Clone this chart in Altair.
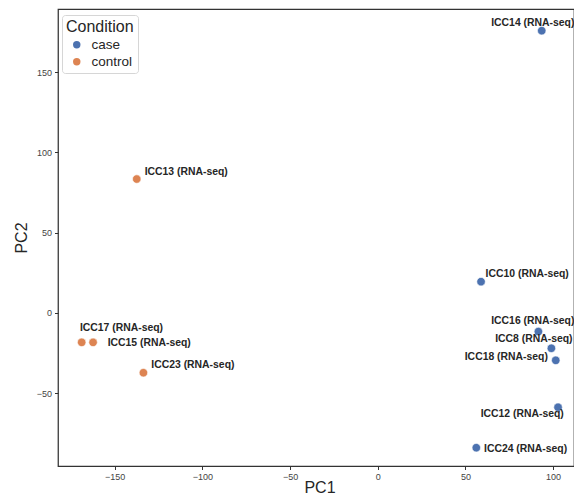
import altair as alt
import pandas as pd

samples = ["ICC14 (RNA-seq)", "ICC13 (RNA-seq)", "ICC17 (RNA-seq)", "ICC15 (RNA-seq)",
           "ICC23 (RNA-seq)", "ICC10 (RNA-seq)", "ICC16 (RNA-seq)", "ICC8 (RNA-seq)",
           "ICC18 (RNA-seq)", "ICC12 (RNA-seq)", "ICC24 (RNA-seq)"]
condition = ["case", "control", "control", "control", "control", "case", "case", "case",
             "case", "case", "case"]
pc1 = [93.5, -137.4, -168.8, -162.3, -133.6, 58.9, 91.6, 99.0, 101.5, 102.8, 56.2]
pc2 = [175.8, 83.4, -18.3, -18.3, -37.2, 19.5, -11.6, -22.0, -29.5, -58.7, -83.9]
# annotation anchor (centre of each text label), in data units
label_pc1 = [88.4, -109.2, -146.1, -130.3, -105.4, 85.2, 88.4, 89.0, 73.3, 82.4, 84.3]
label_pc2 = [180.4, 87.6, -9.5, -18.9, -32.6, 24.3, -4.8, -16.2, -27.6, -62.9, -84.9]

cond_domain = ["case", "control"]
cond_colors = ["#4C72B0", "#DD8452"]
x_ticks = [-150, -100, -50, 0, 50, 100]
y_ticks = [-50, 0, 50, 100, 150]
x_domain = [-182.3, 111.9]
y_domain = [-95.3, 189.3]

df = pd.DataFrame({
    "sample": samples, "Condition": condition, "PC1": pc1, "PC2": pc2,
    "lx": label_pc1, "ly": label_pc2,
})

FONT = "Liberation Sans"

xscale = alt.Scale(domain=x_domain, nice=False, zero=False)
yscale = alt.Scale(domain=y_domain, nice=False, zero=False)

points = alt.Chart(df).mark_circle(size=72, opacity=1, stroke="white", strokeWidth=0.6).encode(
    x=alt.X("PC1:Q", scale=xscale,
            axis=alt.Axis(values=x_ticks, title="PC1", titleX=261.5, titleY=26,
                          titleBaseline="alphabetic", titleAnchor="middle")),
    y=alt.Y("PC2:Q", scale=yscale,
            axis=alt.Axis(values=y_ticks, title="PC2", titleX=-37, titleBaseline="middle")),
    color=alt.Color("Condition:N",
                    scale=alt.Scale(domain=cond_domain, range=cond_colors),
                    legend=alt.Legend(orient="none", legendX=4, legendY=6,
                                      title="Condition", titleFontSize=16,
                                      titleFont=FONT, titleFontWeight="normal",
                                      titleColor="#262626", titlePadding=3,
                                      labelFontSize=13.5, labelFont=FONT, labelColor="#262626",
                                      symbolType="circle", symbolSize=55,
                                      symbolStrokeWidth=0, symbolOffset=4, labelOffset=8,
                                      rowPadding=2, padding=4,
                                      strokeColor="#d6d6d6", cornerRadius=3,
                                      fillColor="white")),
)

labels = alt.Chart(df).mark_text(font=FONT, fontSize=10.4, fontWeight="bold",
                                 color="#262626", align="center", baseline="middle").encode(
    x=alt.X("lx:Q", scale=xscale),
    y=alt.Y("ly:Q", scale=yscale),
    text="sample:N",
)

chart = alt.layer(points, labels).properties(
    width=516, height=457,
    autosize=alt.AutoSizeParams(type="none"),
    padding={"left": 50, "top": 1, "right": 0, "bottom": 30},
    background="white",
).configure_view(
    stroke="#333333", strokeWidth=1.25,
).configure_axis(
    domain=False, grid=False,
    ticks=True, tickSize=3.5, tickColor="#333333", tickWidth=1,
    labelFont=FONT, labelFontSize=9, labelColor="#444444", labelPadding=3,
    titleFont=FONT, titleFontSize=16, titleFontWeight="normal", titleColor="#262626",
)

chart.save("out.html", embed_options={"renderer": "svg", "actions": False})
